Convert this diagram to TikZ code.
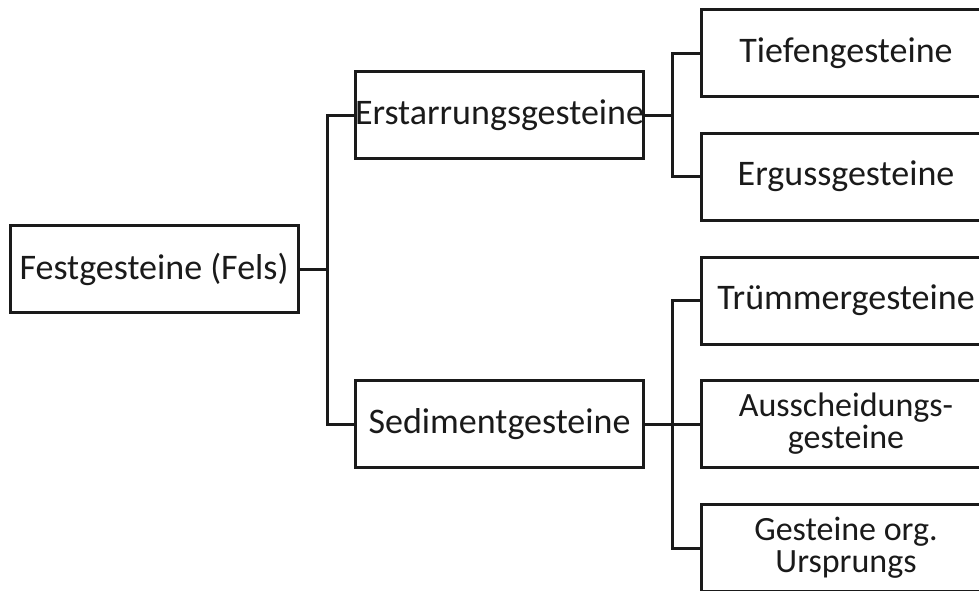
\documentclass[tikz,border=0pt]{standalone}
\usepackage{fontspec}
\setmainfont{Carlito}
\definecolor{ink}{HTML}{1A1A1A}
\begin{document}
\begin{tikzpicture}[x=1pt,y=-1pt,
  box/.style={draw=ink, line width=3pt, rectangle, inner sep=0pt,
    minimum width=288pt, minimum height=87pt, text=ink,
    font=\fontsize{36}{40}\selectfont},
  rbox/.style={box, minimum width=290pt},
  twoline/.style={align=center, font=\fontsize{34}{32}\selectfont},
  conn/.style={draw=ink, line width=3pt}]
\useasboundingbox (0,0) rectangle (979,590);
\clip (0,0) rectangle (979,590);
\node[box] (fest) at (154,269) {Festgesteine (Fels)};
\node[box] (erst) at (499.5,115) {Erstarrungsgesteine};
\node[box] (sed) at (499.5,424) {Sedimentgesteine};
\node[rbox] (tief) at (846,53) {Tiefengesteine};
\node[rbox] (erg) at (846,176.5) {Ergussgesteine};
\node[rbox] (tru) at (846,300.5) {Trümmergesteine};
\node[rbox,twoline] (aus) at (846,424) {Ausscheidungs-\\gesteine};
\node[rbox,twoline] (org) at (846,548) {Gesteine org.\\Ursprungs};
\coordinate (j1) at (327.5,0);
\coordinate (j2) at (672.5,0);
\draw[conn] (fest.east) -- (fest.east -| j1);
\draw[conn] (erst.west) -| (j1 |- sed.west) -- (sed.west);
\draw[conn] (erst.east) -- (erst.east -| j2);
\draw[conn] (tief.west) -| (j2 |- erg.west) -- (erg.west);
\draw[conn] (tru.west) -| (j2 |- org.west) -- (org.west);
\draw[conn] (sed.east) -- (aus.west);
\end{tikzpicture}
\end{document}
